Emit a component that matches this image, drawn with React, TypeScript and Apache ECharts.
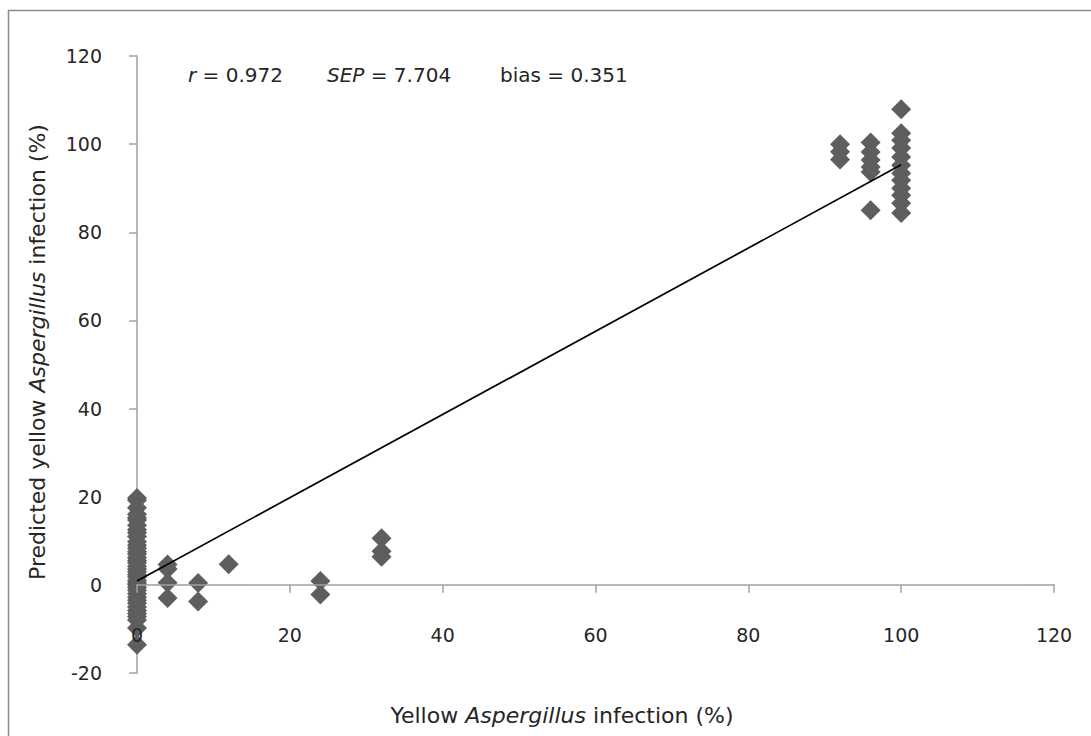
import React, { useEffect, useRef } from "react";
import * as echarts from "echarts";

// Reference (actual) infection levels and predicted values grouped by reference level
const x0Pred = [19.7, 19.2, 17.5, 16.0, 15.2, 14.7, 13.5, 12.5, 11.8, 11.0, 9.8, 9.0, 8.3, 7.5, 7.0, 6.2, 5.5, 5.0, 4.2, 3.6, 3.0, 2.3, 1.8, 1.0, 0.4, 0.0, -0.6, -1.2, -2.0, -2.8, -3.5, -4.2, -5.0, -5.8, -6.5, -7.2, -8.0, -9.8, -13.6];
const x4Pred = [4.6, 3.6, 0.5, -3.0];
const x8Pred = [0.4, -3.8];
const x12Pred = [4.7];
const x24Pred = [0.9, -2.2];
const x32Pred = [10.6, 7.6, 6.4];
const x92Pred = [100.0, 98.3, 96.5];
const x96Pred = [100.4, 98.2, 96.4, 94.8, 93.7, 85.0];
const x100Pred = [107.9, 102.5, 100.9, 99.1, 97.1, 95.2, 93.4, 91.8, 90.0, 88.4, 86.6, 84.4];

const groups: [number, number[]][] = [
  [0, x0Pred],
  [4, x4Pred],
  [8, x8Pred],
  [12, x12Pred],
  [24, x24Pred],
  [32, x32Pred],
  [92, x92Pred],
  [96, x96Pred],
  [100, x100Pred],
];

const trendX = [0, 100];
const trendY = [0.9, 95.3];

const xTicks = [0, 20, 40, 60, 80, 100, 120];
const yTicks = [-20, 0, 20, 40, 60, 80, 100, 120];

const FONT = "'DejaVu Sans', sans-serif";
const TXT = "#262626";

export default function App() {
  const ref = useRef<HTMLDivElement>(null);
  useEffect(() => {
    if (!ref.current) return;
    const chart = echarts.init(ref.current, null, { renderer: "svg" });
    const points: number[][] = [];
    groups.forEach(([x, ys]) => ys.forEach((y) => points.push([x, y])));
    const italic = { fontStyle: "italic", fontSize: 20, fontFamily: FONT, fill: TXT };
    const italicT = { fontStyle: "italic", fontSize: 22, fontFamily: FONT, fill: TXT };
    chart.setOption({
      animation: false,
      textStyle: { fontFamily: FONT },
      grid: { left: 137, right: 37, top: 56, bottom: 63, containLabel: false },
      xAxis: {
        type: "value",
        min: xTicks[0],
        max: xTicks[xTicks.length - 1],
        interval: 20,
        z: 5,
        axisLine: { onZero: true, lineStyle: { color: "#a0a0a0", width: 1.5 } },
        axisTick: { show: true, length: 8, inside: false, lineStyle: { color: "#a0a0a0", width: 1.5 } },
        axisLabel: { margin: -48, color: TXT, fontSize: 19, fontFamily: FONT },
        splitLine: { show: false },
      },
      yAxis: {
        type: "value",
        min: yTicks[0],
        max: yTicks[yTicks.length - 1],
        interval: 20,
        axisLine: { show: true, onZero: true, lineStyle: { color: "#a0a0a0", width: 1.5 } },
        axisTick: { show: true, length: 8, lineStyle: { color: "#a0a0a0", width: 1.5 } },
        axisLabel: { margin: 35, color: TXT, fontSize: 19, fontFamily: FONT },
        splitLine: { show: false },
      },
      series: [
        {
          type: "scatter",
          symbol: "diamond",
          symbolSize: 20,
          itemStyle: { color: "#5e5e5e", opacity: 1 },
          data: points,
          z: 2,
        },
        {
          type: "line",
          data: trendX.map((x, i) => [x, trendY[i]]),
          symbol: "none",
          lineStyle: { color: "#000", width: 1.7 },
          z: 3,
        },
      ],
      graphic: [
        {
          type: "rect",
          shape: { x: 8.5, y: 10.5, width: 1200, height: 900 },
          style: { fill: "none", stroke: "#8c8c8c", lineWidth: 1.5 },
          z: -10,
        },
        {
          type: "text",
          x: 188,
          y: 75,
          style: {
            text: "{i|r} = 0.972",
            fill: TXT,
            font: `20px ${FONT}`,
            verticalAlign: "middle",
            rich: { i: italic },
          },
        },
        {
          type: "text",
          x: 327,
          y: 75,
          style: {
            text: "{i|SEP} = 7.704",
            fill: TXT,
            font: `20px ${FONT}`,
            verticalAlign: "middle",
            rich: { i: italic },
          },
        },
        {
          type: "text",
          x: 500,
          y: 75,
          style: {
            text: "bias = 0.351",
            fill: TXT,
            font: `20px ${FONT}`,
            verticalAlign: "middle",
          },
        },
        {
          type: "text",
          x: 562,
          y: 715,
          style: {
            text: "Yellow {i|Aspergillus} infection (%)",
            fill: TXT,
            font: `22px ${FONT}`,
            align: "center",
            verticalAlign: "middle",
            rich: { i: italicT },
          },
        },
        {
          type: "text",
          x: 37,
          y: 352,
          rotation: Math.PI / 2,
          style: {
            text: "Predicted yellow {i|Aspergillus} infection (%)",
            fill: TXT,
            font: `22px ${FONT}`,
            align: "center",
            verticalAlign: "middle",
            rich: { i: italicT },
          },
        },
      ],
    });
    return () => chart.dispose();
  }, []);
  return (
    <div
      ref={ref}
      style={{ position: "absolute", left: 0, top: 0, width: 1091, height: 736, background: "#fff" }}
    />
  );
}
